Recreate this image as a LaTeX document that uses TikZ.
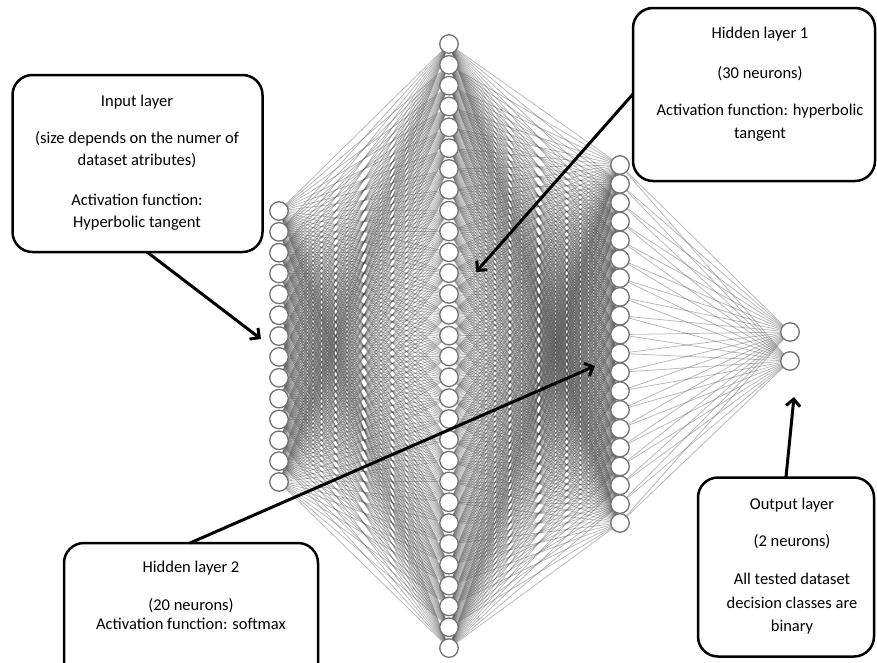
\documentclass[tikz,border=0pt]{standalone}
\usepackage{fontspec}
\setmainfont{Carlito}
\usetikzlibrary{arrows.meta}
\pgfdeclarelayer{background}
\pgfsetlayers{background,main}
\tikzset{
  neuron/.style={circle, draw=black!55, line width=1.3pt, fill=white, minimum size=18.5pt, inner sep=0pt},
  edge/.style={draw=black!70, opacity=0.4, line width=0.75pt},
  infobox/.style={draw=black, line width=2.5pt, rounded corners=20pt, fill=white},
  lbl/.style={font=\fontsize{16.5}{19}\selectfont, anchor=base, inner sep=0pt},
  callout/.style={draw=black, line width=3pt, -{Straight Barb[length=7pt,width=14pt]}}
}
\begin{document}
\begin{tikzpicture}[x=1pt,y=-1pt]
\clip (0,0) rectangle (877,662);
% neurons
\foreach \k in {1,...,14} \node[neuron] (i\k) at (279,{211+(\k-1)*20.846}) {};
\foreach \k in {1,...,30} \node[neuron] (a\k) at (449,{44+(\k-1)*20.83}) {};
\foreach \k in {1,...,20} \node[neuron] (b\k) at (620,{165+(\k-1)*18.84}) {};
\node[neuron] (o1) at (790,332) {};
\node[neuron] (o2) at (790,361) {};
% connections
\begin{pgfonlayer}{background}
\fill[white] (0,0) rectangle (877,662);
\foreach \p in {1,...,14} \foreach \q in {1,...,30} \draw[edge] (i\p.center) -- (a\q.center);
\foreach \p in {1,...,30} \foreach \q in {1,...,20} \draw[edge] (a\p.center) -- (b\q.center);
\foreach \p in {1,...,20} \foreach \q in {1,2} \draw[edge] (b\p.center) -- (o\q.center);
\end{pgfonlayer}
% boxes
\node[infobox, minimum width=250pt, minimum height=177pt] (inbox) at (137.5,163.5) {};
\node[infobox, minimum width=242pt, minimum height=173pt] (h1box) at (754,94.5) {};
\node[infobox, minimum width=254pt, minimum height=150pt] (h2box) at (191,618) {};
\node[infobox, minimum width=176pt, minimum height=179pt] (outbox) at (786,567) {};
% texts
\node[lbl] (t1a) at (137,106) {Input layer};
\node[lbl] (t1b) at (137,143) {(size depends on the numer of};
\node[lbl] (t1c) at (137,165) {dataset atributes)};
\node[lbl] (t1d) at (137,205) {Activation function:};
\node[lbl] (t1e) at (137,227) {Hyperbolic tangent};
\node[lbl] (t2a) at (760,38) {Hidden layer 1};
\node[lbl] (t2b) at (760,78) {(30 neurons)};
\node[lbl] (t2c) at (760,115) {Activation function: hyperbolic};
\node[lbl] (t2d) at (760,138) {tangent};
\node[lbl] (t3a) at (191,572) {Hidden layer 2};
\node[lbl] (t3b) at (191,610) {(20 neurons)};
\node[lbl] (t3c) at (191,629) {Activation function: softmax};
\node[lbl] (t4a) at (792,509) {Output layer};
\node[lbl] (t4b) at (792,546) {(2 neurons)};
\node[lbl] (t4c) at (792,584) {All tested dataset};
\node[lbl] (t4d) at (792,608) {decision classes are};
\node[lbl] (t4e) at (792,631) {binary};
% arrows
\coordinate (c1s) at (147,252);
\coordinate (c1e) at (261,339);
\coordinate (c2s) at (633,94);
\coordinate (c2e) at (476,272);
\coordinate (c3s) at (190,543);
\coordinate (c3e) at (595,366);
\coordinate (c4s) at (786,477);
\coordinate (c4e) at (794,397);
\draw[callout] (c1s) -- (c1e);
\draw[callout] (c2s) -- (c2e);
\draw[callout] (c3s) -- (c3e);
\draw[callout] (c4s) -- (c4e);
\end{tikzpicture}
\end{document}
